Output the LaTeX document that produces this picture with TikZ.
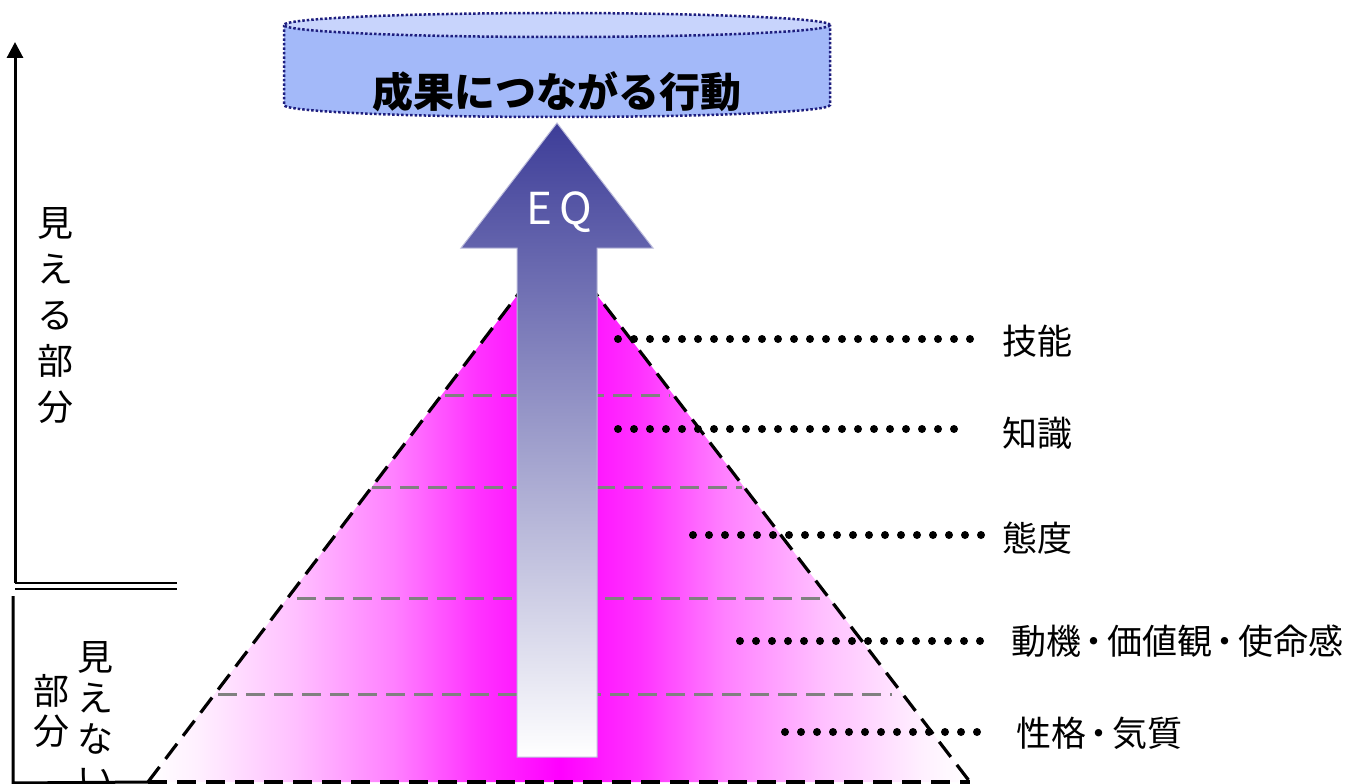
\documentclass[tikz,border=0pt]{standalone}
\usepackage{fontspec}
\setmainfont{Noto Sans CJK JP}
\usepackage{xcolor}
\usepackage{tikz}
\usetikzlibrary{arrows.meta, positioning, calc}
\definecolor{cylbody}{HTML}{A3B9F9}
\definecolor{cyltop}{HTML}{C8D4FC}
\definecolor{cyledge}{HTML}{1E1E7E}
\definecolor{eqtop}{HTML}{3D3D98}
\definecolor{layergray}{HTML}{808080}
\pgfdeclarehorizontalshading{pyramidfill}{100bp}{color(0bp)=(white); color(25bp)=(white); color(28bp)=(magenta!6); color(34bp)=(magenta!25); color(40bp)=(magenta!50); color(45bp)=(magenta!80); color(50bp)=(magenta); color(55bp)=(magenta!80); color(60bp)=(magenta!50); color(66bp)=(magenta!25); color(72bp)=(magenta!6); color(75bp)=(white); color(100bp)=(white)}
\newcommand{\midsep}{\kern-4.5pt・\kern-4.5pt}

\begin{document}
\begin{tikzpicture}[x=1pt, y=-1pt,
    layer/.style={draw=layergray, line width=3pt, dash pattern=on 19pt off 9pt},
    edge/.style={draw=black, line width=3.2pt, dash pattern=on 19pt off 10pt},
    rim/.style={draw=cyledge, line width=2.5pt, dash pattern=on 2.5pt off 2pt},
    leader/.style={line width=8pt, line cap=round, dash pattern=on 0pt off 16pt},
    lbl/.style={anchor=west, inner sep=0pt, font=\fontsize{35}{40}\selectfont},
    side/.style={align=center, inner sep=0pt, font=\fontsize{36}{46}\selectfont},
]
\useasboundingbox (0,0) rectangle (1353,784);

% pyramid
\coordinate (apex) at (557,243);
\coordinate (baseL) at (148,782);
\coordinate (baseR) at (970,782);
\shade[shading=pyramidfill] (apex) -- (baseR) -- (baseL) -- cycle;
\draw[layer] (445,395) -- (670,395);
\draw[layer] (372,487) -- (742,487);
\draw[layer] (297,598) -- (820,598);
\draw[layer] (218,694) -- (892,694);
\draw[edge] (baseL) -- (apex) -- (baseR);
\draw[edge] (baseL) -- (baseR);

% cylinder on top
\fill[cylbody] (284,25) -- (284,105) arc[start angle=180, end angle=0, x radius=273, y radius=12] -- (830,25) -- cycle;
\draw[rim] (284,25) -- (284,105) arc[start angle=180, end angle=0, x radius=273, y radius=12] -- (830,25);
\draw[rim, fill=cyltop] (557,25) ellipse [x radius=273, y radius=12];
\node[font=\bfseries\fontsize{41}{41}\selectfont] (goal) at (557,92) {成果につながる行動};

% EQ arrow
\path[draw=eqtop!35, line width=1pt, top color=eqtop, bottom color=white]
  (517,757) -- (517,248) -- (461,248) -- (557,123) -- (653,248) -- (597,248) -- (597,757) -- cycle;
\node[text=white, font=\fontsize{44}{44}\selectfont] (eq) at (559,212) {E\,Q};

% left axis
\draw[line width=3pt, -{Triangle[width=16pt, length=16pt]}] (15,583) -- (15,42);
\draw[line width=2.5pt] (15,583) -- (177,583);
\draw[line width=2.5pt] (15,589) -- (177,589);
\draw[line width=3pt] (13,596) -- (13,783) -- (baseL);

\node[side] (visible) at (55,316) {見\\え\\る\\部\\分};
\node[side, font=\fontsize{36}{41}\selectfont] (hidden) at (95,718) {見\\え\\な\\い};
\node[side, font=\fontsize{36}{40}\selectfont] (hiddenpart) at (52,711) {部\\分};

% layer labels
\node[lbl] (skill) at (1002,341) {技能};
\node[lbl] (knowledge) at (1002,433) {知識};
\node[lbl] (attitude) at (1002,538) {態度};
\node[lbl] (motive) at (1011,641) {動機\midsep 価値観\midsep 使命感};
\node[lbl] (trait) at (1016,733) {性格\midsep 気質};

\coordinate (skillA) at (618,339);
\coordinate (skillB) at (973,339);
\coordinate (knowledgeA) at (618,429);
\coordinate (knowledgeB) at (957,429);
\coordinate (attitudeA) at (693,535);
\coordinate (attitudeB) at (984,535);
\coordinate (motiveA) at (740,641);
\coordinate (motiveB) at (983,641);
\coordinate (traitA) at (785,732);
\coordinate (traitB) at (980,732);
\draw[leader] (skillA) -- (skillB);
\draw[leader] (knowledgeA) -- (knowledgeB);
\draw[leader] (attitudeA) -- (attitudeB);
\draw[leader] (motiveA) -- (motiveB);
\draw[leader] (traitA) -- (traitB);
\end{tikzpicture}
\end{document}
